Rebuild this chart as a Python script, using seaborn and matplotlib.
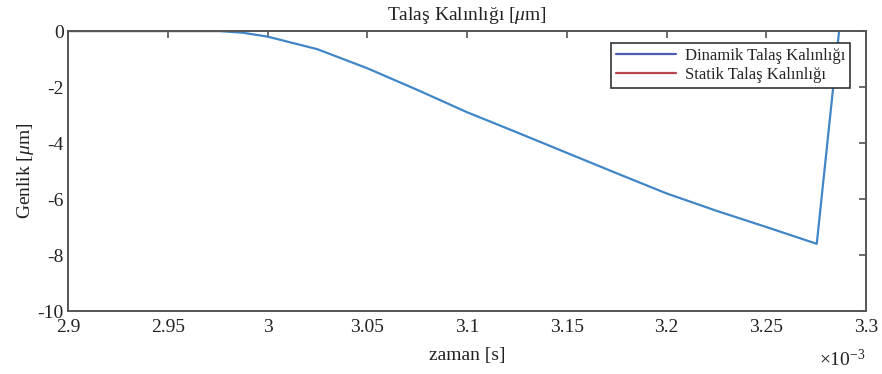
import pandas as pd
import matplotlib
matplotlib.use('Agg')
import matplotlib.pyplot as plt
import seaborn as sns
from matplotlib.lines import Line2D
from matplotlib.ticker import FuncFormatter

# Data (time in seconds, thickness in micrometres)
zaman = [2.900e-3, 2.975e-3, 2.9875e-3, 3.000e-3, 3.025e-3, 3.050e-3, 3.075e-3,
         3.100e-3, 3.125e-3, 3.150e-3, 3.175e-3, 3.200e-3, 3.225e-3, 3.250e-3,
         3.2753e-3, 3.2865e-3]
dinamik = [0.0, 0.0, -0.06, -0.2, -0.65, -1.33, -2.1, -2.9, -3.62, -4.35, -5.08,
           -5.8, -6.42, -7.0, -7.6, 0.0]
statik_zaman = [2.900e-3, 2.975e-3]
statik = [0.0, 0.0]

df_din = pd.DataFrame({'zaman': zaman, 'h': dinamik})
df_sta = pd.DataFrame({'zaman': statik_zaman, 'h': statik})

sns.set_style('white')
plt.rcParams['font.family'] = ['Liberation Serif', 'DejaVu Serif']
plt.rcParams['mathtext.fontset'] = 'custom'
plt.rcParams['mathtext.rm'] = 'Liberation Serif'
plt.rcParams['mathtext.it'] = 'Liberation Serif:italic'
plt.rcParams['axes.unicode_minus'] = False

fig = plt.figure(figsize=(8.82, 3.74), dpi=100)
ax = fig.add_axes([0.0771, 0.1684, 0.9048, 0.7487])

sns.lineplot(data=df_din, x='zaman', y='h', color='#4186c6', linewidth=1.6, ax=ax)
sns.lineplot(data=df_sta, x='zaman', y='h', color='#b5474b', linewidth=1.6, ax=ax)

ax.set_xlim(2.9e-3, 3.3e-3)
ax.set_ylim(-10, 0)
ax.set_xticks([2.9e-3 + i * 0.05e-3 for i in range(9)])
ax.set_yticks([-10, -8, -6, -4, -2, 0])
ax.xaxis.set_major_formatter(FuncFormatter(lambda v, p: f'{v * 1e3:g}'))

for s in ax.spines.values():
    s.set_color('#555555')
    s.set_linewidth(1.4)
ax.tick_params(direction='in', top=True, right=True, length=5, width=1.2,
               color='#555555', labelsize=14, labelcolor='#222222', pad=3)
ax.tick_params(axis='x', pad=6)

ax.set_title(r'Talaş Kalınlığı [$\mu$m]', fontsize=14, color='#222222', pad=8)
ax.set_xlabel('zaman [s]', fontsize=14, color='#222222', labelpad=8)
ax.set_ylabel(r'Genlik [$\mu$m]', fontsize=14, color='#222222', labelpad=1)
ax.text(1.0, -0.135, r'$\times$10$^{-3}$', transform=ax.transAxes, ha='right',
        va='top', fontsize=14, color='#222222')

handles = [Line2D([], [], color='#4a5db5', linewidth=1.6),
           Line2D([], [], color='#b5474b', linewidth=1.6)]
leg = ax.legend(handles, ['Dinamik Talaş Kalınlığı', 'Statik Talaş Kalınlığı'],
                loc='upper right', bbox_to_anchor=(0.98, 0.957), borderaxespad=0,
                fontsize=12, handlelength=3.6, fancybox=False, framealpha=1,
                edgecolor='#333333', borderpad=0.3, labelspacing=0.15,
                handletextpad=0.5)
leg.get_frame().set_linewidth(1.2)

fig.savefig('out.png', dpi=100)
